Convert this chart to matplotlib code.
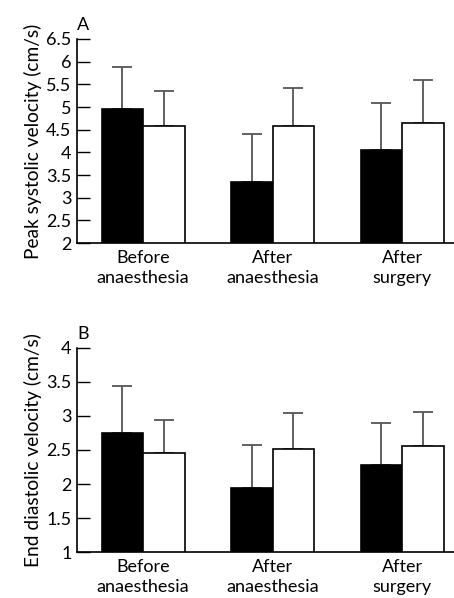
import matplotlib
matplotlib.use("Agg")
import matplotlib.pyplot as plt
import numpy as np

categories = ["Before\nanaesthesia", "After\nanaesthesia", "After\nsurgery"]

psv_black = [4.95, 3.35, 4.06]
psv_black_err = [0.93, 1.06, 1.02]
psv_white = [4.57, 4.57, 4.65]
psv_white_err = [0.79, 0.85, 0.94]

edv_black = [2.75, 1.95, 2.28]
edv_black_err = [0.69, 0.63, 0.61]
edv_white = [2.45, 2.51, 2.56]
edv_white_err = [0.49, 0.53, 0.50]

psv_ticks = [2, 2.5, 3, 3.5, 4, 4.5, 5, 5.5, 6, 6.5]
psv_ticklabels = ["2", "2.5", "3", "3.5", "4", "4.5", "5", "5.5", "6", "6.5"]
edv_ticks = [1, 1.5, 2, 2.5, 3, 3.5, 4]
edv_ticklabels = ["1", "1.5", "2", "2.5", "3", "3.5", "4"]

plt.rcParams['font.family'] = ['Lato', 'DejaVu Sans']

fig = plt.figure(figsize=(4.54, 5.98), dpi=100)

def panel(rect, black, berr, white, werr, ticks, ticklabels, ylim, ylabel, letter):
    ax = fig.add_axes(rect)
    x = np.arange(len(categories))
    w = 0.32
    ax.bar(x - w / 2, black, w, color="black", edgecolor="black", linewidth=1.2, zorder=2)
    ax.bar(x + w / 2, white, w, color="white", edgecolor="black", linewidth=1.2, zorder=2)
    ax.errorbar(x - w / 2, black, yerr=[np.zeros(3), berr], fmt="none",
                ecolor="#555555", elinewidth=1.3, capsize=7, capthick=1.3, zorder=1)
    ax.errorbar(x + w / 2, white, yerr=[np.zeros(3), werr], fmt="none",
                ecolor="#555555", elinewidth=1.3, capsize=7, capthick=1.3, zorder=1)
    ax.set_xlim(-0.51, 2.40)
    ax.set_ylim(*ylim)
    ax.set_yticks(ticks)
    ax.set_yticklabels(ticklabels)
    ax.set_xticks(x)
    ax.set_xticklabels(categories, fontsize=13, linespacing=1.3)
    ax.tick_params(axis="x", length=0, pad=5)
    ax.tick_params(axis="y", direction="in", length=9.5, width=1.0, labelsize=13, pad=4)
    for s in ["top", "right"]:
        ax.spines[s].set_visible(False)
    for s in ["left", "bottom"]:
        ax.spines[s].set_linewidth(1.2)
    ax.set_ylabel(ylabel, fontsize=13.8, labelpad=3)
    ax.text(0.0, 1.03, letter, transform=ax.transAxes, fontsize=13, ha="left", va="bottom")
    return ax

panel([0.1696, 0.5936, 0.8304, 0.3412], psv_black, psv_black_err, psv_white, psv_white_err,
      psv_ticks, psv_ticklabels, (2, 6.5), "Peak systolic velocity (cm/s)", "A")
panel([0.1696, 0.0764, 0.8304, 0.3422], edv_black, edv_black_err, edv_white, edv_white_err,
      edv_ticks, edv_ticklabels, (1, 4), "End diastolic velocity (cm/s)", "B")

fig.savefig("out.png", dpi=100)
